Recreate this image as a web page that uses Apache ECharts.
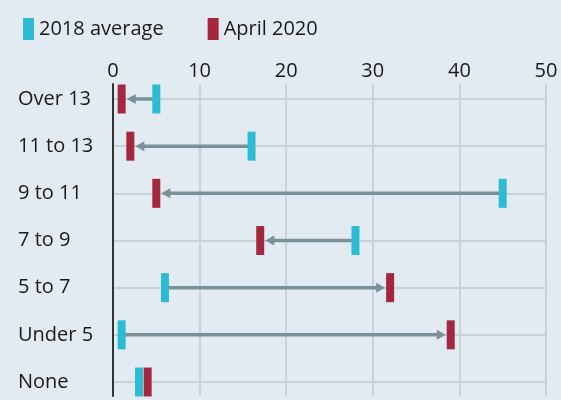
<!DOCTYPE html>
<html><head><meta charset="utf-8">
<script src="https://cdn.jsdelivr.net/npm/echarts@6/dist/echarts.min.js"></script>
<style>html,body{margin:0;padding:0;background:#e3ebf2;}#c{width:561px;height:400px;}</style>
</head><body><div id="c"></div>
<script>
const categories = ['Over 13','11 to 13','9 to 11','7 to 9','5 to 7','Under 5','None'];
const avg2018 = [5, 16, 45, 28, 6, 1, 3];
const apr2020 = [1, 2, 5, 17, 32, 39, 4];
const xTicks = [0, 10, 20, 30, 40, 50];

const C_AVG = '#2bbcd4', C_APR = '#a3283e', C_ARROW = '#7b9099', C_GRID = '#c9d2d9';
const FONT = 'Open Sans';

const chart = echarts.init(document.getElementById('c'));
const arrowData = categories.map((c, i) => [avg2018[i], apr2020[i], i]);

chart.setOption({
  backgroundColor: '#e3ebf2',
  textStyle: { fontFamily: FONT },
  legend: {
    left: 18, top: 13, icon: 'rect', itemWidth: 11, itemHeight: 22, itemGap: 44,
    textStyle: { fontSize: 20, color: '#1a1a1a', fontFamily: FONT },
    data: ['2018 average', 'April 2020']
  },
  grid: [
    { left: 113, right: 15, top: 84, bottom: 4 },
    { left: 113, right: 15, top: 99, height: 283 }
  ],
  xAxis: [
    { gridIndex: 0, type: 'value', min: xTicks[0], max: xTicks[xTicks.length-1], interval: 10, position: 'top',
      axisLine: { show: false }, axisTick: { show: false },
      axisLabel: { fontSize: 20, color: '#1a1a1a', margin: 3, fontFamily: FONT },
      splitLine: { show: true, lineStyle: { color: C_GRID, width: 2 } } },
    { gridIndex: 1, type: 'value', min: 0, max: 50, show: false }
  ],
  yAxis: [
    { gridIndex: 0, type: 'value', min: 0, max: 1, axisLabel: { show: false }, axisTick: { show: false },
      splitLine: { show: false }, axisLine: { show: true, lineStyle: { color: '#333', width: 2 } } },
    { gridIndex: 1, type: 'category', data: categories, inverse: true, boundaryGap: false,
      axisLine: { show: false }, axisTick: { show: false },
      axisLabel: { fontSize: 20, color: '#1a1a1a', align: 'left', margin: 95, fontFamily: FONT },
      splitLine: { show: true, lineStyle: { color: C_GRID, width: 2 } } }
  ],
  series: [
    { type: 'custom', xAxisIndex: 1, yAxisIndex: 1, z: 2, silent: true,
      data: arrowData, encode: { x: [0, 1], y: 2 },
      renderItem: function (params, api) {
        const p1 = api.coord([api.value(0), api.value(2)]);
        const p2 = api.coord([api.value(1), api.value(2)]);
        const dx = p2[0] - p1[0];
        if (Math.abs(dx) < 20) return null;
        const dir = dx > 0 ? 1 : -1;
        const tip = p2[0] - dir * 5;
        const base = tip - dir * 9;
        const y = p1[1];
        return { type: 'group', children: [
          { type: 'line', shape: { x1: p1[0], y1: y, x2: base + dir * 1, y2: y },
            style: { stroke: C_ARROW, lineWidth: 3.5 } },
          { type: 'polygon', shape: { points: [[tip, y], [base, y - 5], [base, y + 5]] },
            style: { fill: C_ARROW } }
        ]};
      }
    },
    { name: '2018 average', type: 'scatter', xAxisIndex: 1, yAxisIndex: 1, z: 3,
      symbol: 'rect', symbolSize: [8, 29], itemStyle: { color: C_AVG, opacity: 1 },
      data: avg2018.map((v, i) => [v, i]) },
    { name: 'April 2020', type: 'scatter', xAxisIndex: 1, yAxisIndex: 1, z: 4,
      symbol: 'rect', symbolSize: [8, 29], itemStyle: { color: C_APR, opacity: 1 },
      data: apr2020.map((v, i) => [v, i]) }
  ]
});
</script></body></html>
